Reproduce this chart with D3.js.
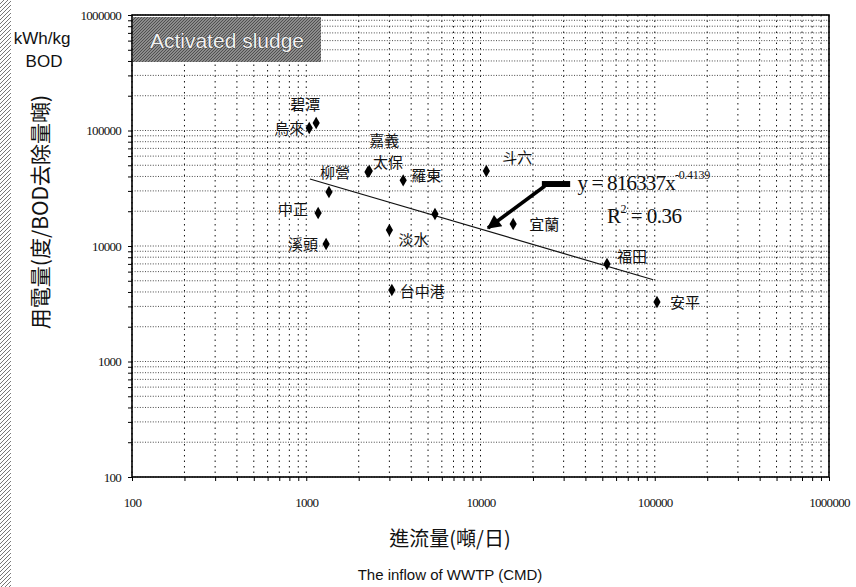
<!DOCTYPE html>
<html>
<head>
<meta charset="utf-8">
<script src="https://cdn.jsdelivr.net/npm/d3@7"></script>
<style>
  body { margin: 0; background: #fff; }
  svg { display: block; }
</style>
</head>
<body>
<div id="chart"></div>
<script>
// plants: name, inflow (CMD), kWh per ton BOD removed
var plantNames = ['烏來', '碧潭', '柳營', '嘉義', '太保', '羅東', '斗六', '中正', '溪頭', '', '淡水', '台中港', '宜蘭', '福田', '安平'];
var inflow = [1040, 1140, 1350, 2300, 2260, 3600, 10800, 1170, 1300, 5480, 3000, 3100, 15400, 53200, 103000];
var energy = [105000, 116000, 29300, 44500, 43700, 37000, 44600, 19300, 10400, 18900, 13750, 4160, 15500, 6980, 3270];

// power trend line as drawn (two ends)
var trendX = [1050, 98000];
var trendY = [38000, 5100];

var xTicks = [100, 1000, 10000, 100000, 1000000];
var yTicks = [100, 1000, 10000, 100000, 1000000];

// where each label sits from its point: [dx, dy, anchor]
var labelPlace = [
  [-5, 6, 'end'], [-11, -13, 'middle'], [6, -14, 'middle'], [15, -25, 'middle'], [5, -4, 'start'],
  [8, 1, 'start'], [16, -8, 'start'], [-10, 2, 'end'], [-8, 6, 'end'], [0, 0, 'start'],
  [9, 15, 'start'], [8, 7, 'start'], [16, 6, 'start'], [10, -2, 'start'], [13, 6, 'start']
];

var width = 856, height = 587;
var margin = {top: 15, right: 27, bottom: 110, left: 132};

var svg = d3.select('#chart').append('svg')
  .attr('width', width)
  .attr('height', height);

var x = d3.scaleLog().domain([100, 1000000]).range([margin.left, width - margin.right]);
var y = d3.scaleLog().domain([100, 1000000]).range([height - margin.bottom, margin.top]);

// scan edge on the left
var defs = svg.append('defs');
var pat = defs.append('pattern').attr('id', 'scan')
  .attr('width', 4).attr('height', 4).attr('patternUnits', 'userSpaceOnUse');
pat.append('path').attr('d', 'M0,4 L4,0').attr('stroke', '#777').attr('stroke-width', 1);
svg.append('rect').attr('x', 0).attr('y', 0).attr('width', 11).attr('height', height).attr('fill', 'url(#scan)');

var halftone = defs.append('pattern').attr('id', 'halftone')
  .attr('width', 3).attr('height', 3).attr('patternUnits', 'userSpaceOnUse');
halftone.append('rect').attr('width', 3).attr('height', 3).attr('fill', '#8c8c8c');
halftone.append('path').attr('d', 'M0,3 L3,0').attr('stroke', '#4a4a4a').attr('stroke-width', 0.9);

// all 1..9 positions in each decade
var gridVals = [];
for (var d = 100; d < 1000000; d *= 10) {
  for (var k = 1; k < 10; k++) gridVals.push(k * d);
}
gridVals.push(1000000);

var gGrid = svg.append('g');
gGrid.selectAll('.vgrid').data(gridVals).enter().append('line')
  .attr('x1', function(v) { return x(v); })
  .attr('x2', function(v) { return x(v); })
  .attr('y1', y(1000000))
  .attr('y2', y(100))
  .attr('stroke', '#111')
  .attr('stroke-width', 1)
  .attr('stroke-dasharray', '1.5,4');
gGrid.selectAll('.hgrid').data(gridVals).enter().append('line')
  .attr('y1', function(v) { return y(v); })
  .attr('y2', function(v) { return y(v); })
  .attr('x1', x(100))
  .attr('x2', x(1000000))
  .attr('stroke', '#333')
  .attr('stroke-width', 0.9)
  .attr('stroke-dasharray', '1,1.6');

// axes
var xAxis = d3.axisBottom(x).tickValues(gridVals).tickSize(4).tickFormat(function(v) {
  return xTicks.indexOf(v) >= 0 ? String(v) : '';
});
var yAxis = d3.axisLeft(y).tickValues(gridVals).tickSize(4).tickFormat(function(v) {
  return yTicks.indexOf(v) >= 0 ? String(v) : '';
});

var gx = svg.append('g').attr('transform', 'translate(0,' + y(100) + ')').call(xAxis);
gx.selectAll('text').attr('dy', '1.8em');
var gy = svg.append('g').attr('transform', 'translate(' + x(100) + ',0)').call(yAxis);
gy.selectAll('text').attr('dx', '-0.3em');
[gx, gy].forEach(function(g) {
  g.select('.domain').remove();
  g.selectAll('line').attr('stroke', '#000');
  g.selectAll('text')
    .attr('font-family', '"Liberation Serif", serif')
    .attr('font-size', 13)
    .attr('letter-spacing', -0.7)
    .attr('fill', '#111');
});

// plot frame
svg.append('rect')
  .attr('x', x(100)).attr('y', y(1000000))
  .attr('width', x(1000000) - x(100))
  .attr('height', y(100) - y(1000000))
  .attr('fill', 'none')
  .attr('stroke', '#000')
  .attr('stroke-width', 1.6);

// "Activated sludge" box
svg.append('rect')
  .attr('x', x(100) + 1).attr('y', y(1000000) + 2)
  .attr('width', 188).attr('height', 45)
  .attr('fill', 'url(#halftone)');
svg.append('text')
  .attr('x', x(100) + 95).attr('y', y(1000000) + 33)
  .attr('text-anchor', 'middle')
  .attr('font-family', '"Liberation Sans", Arial, sans-serif')
  .attr('font-size', 21)
  .attr('fill', '#f2f2f2')
  .attr('stroke', '#222')
  .attr('stroke-width', 0.7)
  .attr('paint-order', 'stroke')
  .text('Activated sludge');

// trend line
svg.append('path')
  .datum(d3.zip(trendX, trendY))
  .attr('fill', 'none')
  .attr('stroke', '#111')
  .attr('stroke-width', 1.2)
  .attr('d', d3.line().x(function(p) { return x(p[0]); }).y(function(p) { return y(p[1]); }));

// points
var pts = d3.range(inflow.length);
svg.append('g').selectAll('path').data(pts).enter().append('path')
  .attr('transform', function(i) { return 'translate(' + x(inflow[i]) + ',' + y(energy[i]) + ')'; })
  .attr('d', d3.symbol().type(d3.symbolDiamond).size(45))
  .attr('fill', '#000');

svg.append('g').selectAll('text').data(pts).enter().append('text')
  .attr('x', function(i) { return x(inflow[i]) + labelPlace[i][0]; })
  .attr('y', function(i) { return y(energy[i]) + labelPlace[i][1]; })
  .attr('text-anchor', function(i) { return labelPlace[i][2]; })
  .attr('font-family', '"Noto Sans CJK TC", sans-serif')
  .attr('font-size', 15)
  .attr('fill', '#111')
  .text(function(i) { return plantNames[i]; });

// equation annotation with arrow
var eqAnchor = [36000, 30500];
var r2Anchor = [53200, 15800];
var barEnds = [22500, 32700];
var barLevel = 34400;
var arrowTip = [11040, 14320];

defs.append('marker').attr('id', 'head')
  .attr('viewBox', '0 0 10 10').attr('refX', 9).attr('refY', 5)
  .attr('markerWidth', 4.5).attr('markerHeight', 4)
  .attr('orient', 'auto')
  .append('path').attr('d', 'M0,0 L10,5 L0,10 z').attr('fill', '#000');

svg.append('line')
  .attr('x1', x(barEnds[0])).attr('x2', x(barEnds[1]))
  .attr('y1', y(barLevel)).attr('y2', y(barLevel))
  .attr('stroke', '#000').attr('stroke-width', 6);
svg.append('line')
  .attr('x1', x(barEnds[0]) + 3).attr('y1', y(barLevel) + 2)
  .attr('x2', x(arrowTip[0])).attr('y2', y(arrowTip[1]))
  .attr('stroke', '#000').attr('stroke-width', 3.5)
  .attr('marker-end', 'url(#head)');

var eq = svg.append('text')
  .attr('x', x(eqAnchor[0])).attr('y', y(eqAnchor[1]))
  .attr('font-family', '"Liberation Serif", serif')
  .attr('font-size', 21)
  .attr('letter-spacing', -0.8)
  .attr('fill', '#111');
eq.append('tspan').text('y = 816337x');
eq.append('tspan').attr('dy', -11).attr('font-size', 12).attr('letter-spacing', -0.3).text('-0.4139');

var r2 = svg.append('text')
  .attr('x', x(r2Anchor[0])).attr('y', y(r2Anchor[1]))
  .attr('font-family', '"Liberation Serif", serif')
  .attr('font-size', 21)
  .attr('letter-spacing', -0.5)
  .attr('fill', '#111');
r2.append('tspan').text('R');
r2.append('tspan').attr('dy', -10).attr('font-size', 12).text('2');
r2.append('tspan').attr('dy', 10).text(' = 0.36');

// axis titles
svg.append('text')
  .attr('x', 450).attr('y', 546)
  .attr('text-anchor', 'middle')
  .attr('font-family', '"Noto Sans CJK TC", sans-serif')
  .attr('font-size', 20)
  .attr('fill', '#111')
  .text('進流量(噸/日)');
svg.append('text')
  .attr('x', 450).attr('y', 580)
  .attr('text-anchor', 'middle')
  .attr('font-family', '"Liberation Sans", Arial, sans-serif')
  .attr('font-size', 15)
  .attr('fill', '#111')
  .text('The  inflow of  WWTP (CMD)');

svg.append('text')
  .attr('transform', 'translate(48,212) rotate(-90)')
  .attr('text-anchor', 'middle')
  .attr('font-family', '"Noto Sans CJK TC", sans-serif')
  .attr('font-size', 21)
  .attr('fill', '#111')
  .text('用電量(度/BOD去除量噸)');

svg.append('text')
  .attr('x', 42).attr('y', 44)
  .attr('text-anchor', 'middle')
  .attr('font-family', '"Liberation Sans", Arial, sans-serif')
  .attr('font-size', 17)
  .attr('fill', '#111')
  .text('kWh/kg');
svg.append('text')
  .attr('x', 44).attr('y', 67)
  .attr('text-anchor', 'middle')
  .attr('font-family', '"Liberation Sans", Arial, sans-serif')
  .attr('font-size', 17)
  .attr('fill', '#111')
  .text('BOD');
</script>
</body>
</html>
